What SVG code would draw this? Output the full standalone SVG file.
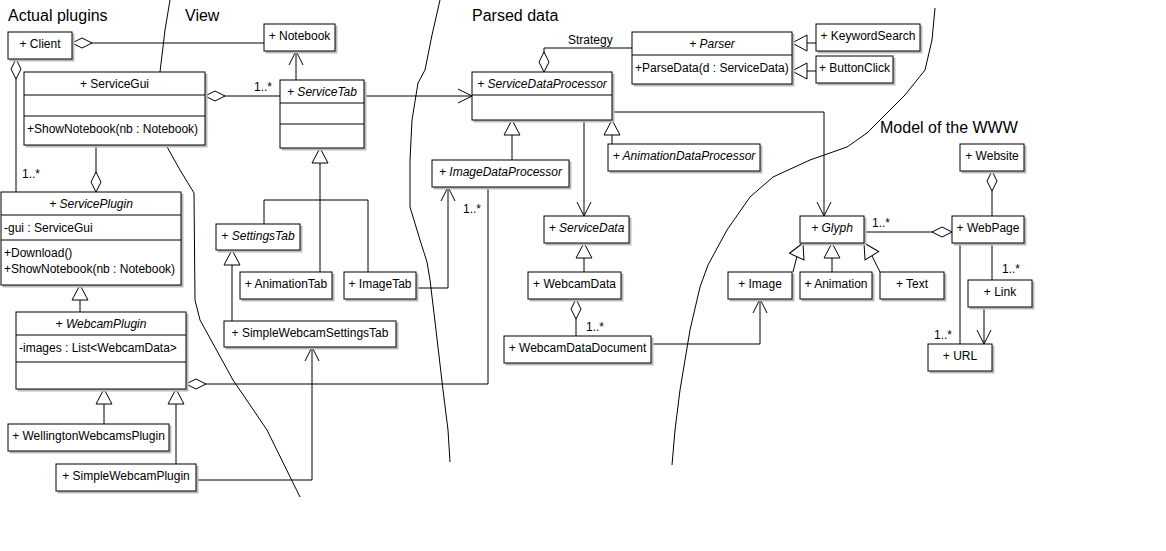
<svg xmlns="http://www.w3.org/2000/svg" width="1166" height="551" viewBox="0 0 1166 551">
<style>
rect.b{fill:#fff;stroke:#000;stroke-width:1;filter:drop-shadow(2px 2px 0 #bbb)}
line.d{stroke:#000}
text{font-family:"Liberation Sans",Arial,sans-serif;font-size:12px;fill:#000}
.c{text-anchor:middle}
.i{font-style:italic}
.reg{font-size:16px}
#connectors path{fill:none;stroke:#000;stroke-width:1}
.free{fill:none;stroke:#000;stroke-width:1}
</style>
<defs>
<marker id="dia" markerUnits="userSpaceOnUse" orient="auto" overflow="visible" refX="0" refY="0" markerWidth="1" markerHeight="1"><path d="M0,0 L-10,-5 L-20,0 L-10,5 Z" fill="#fff" stroke="#000"/></marker>
<marker id="tri" markerUnits="userSpaceOnUse" orient="auto" overflow="visible" refX="0" refY="0" markerWidth="1" markerHeight="1"><path d="M0,0 L-15,-8 L-15,8 Z" fill="#fff" stroke="#000"/></marker>
<marker id="arr" markerUnits="userSpaceOnUse" orient="auto" overflow="visible" refX="0" refY="0" markerWidth="1" markerHeight="1"><path d="M-14,-7 L0,0 L-14,7" fill="none" stroke="#000"/></marker>
</defs>
<rect width="1166" height="551" fill="#fff"/>
<g id="regions">
<path class="free" d="M170,0 L165,30 L160,72"/>
<path class="free" d="M166,145 L180,170 L194,193 L195,300 L200,320 L233,380 L267,430 L300,497"/>
<path class="free" d="M440,0 L432,35 L425,70 L418,83 L412,120 L410,160 L410,207 L420,240 L427,262 L430,280 L436,330 L443,390 L448,430 L450,462"/>
<path class="free" d="M935,8 L932,40 L925,70 L905,95 L880,120 L867,133 L847,147 L810,160 L773,177 L750,197 L727,230 L708,265 L700,287 L690,330 L680,390 L675,430 L672,465"/>
<text class="reg" x="8" y="21">Actual plugins</text>
<text class="reg" x="185" y="21">View</text>
<text class="reg" x="472" y="21">Parsed data</text>
<text class="reg" x="880" y="133">Model of the WWW</text>
</g>
<g id="connectors">
<path d="M264,43 L72,43" marker-end="url(#dia)"/>
<path d="M16,192 L16,59" marker-end="url(#dia)"/>
<path d="M96,145 L96,192" marker-end="url(#dia)"/>
<path d="M280,96 L205,96" marker-end="url(#dia)"/>
<path d="M296,80 L296,51" marker-end="url(#arr)"/>
<path d="M364,96 L472,96" marker-end="url(#arr)"/>
<path d="M320,272 L320,148" marker-end="url(#tri)"/>
<path d="M264,224 L264,200 L368,200 L368,272"/>
<path d="M232,321 L232,250" marker-end="url(#tri)"/>
<path d="M416,288 L448,288 L448,187" marker-end="url(#arr)"/>
<path d="M80,312 L80,285" marker-end="url(#tri)"/>
<path d="M104,424 L104,389" marker-end="url(#tri)"/>
<path d="M176,464 L176,389" marker-end="url(#tri)"/>
<path d="M488,187 L488,384 L186,384" marker-end="url(#dia)"/>
<path d="M196,480 L312,480 L312,347" marker-end="url(#arr)"/>
<path d="M632,48 L544,48 L544,72" marker-end="url(#dia)"/>
<path d="M816,43 L792,43" marker-end="url(#tri)"/>
<path d="M816,71 L792,71" marker-end="url(#tri)"/>
<path d="M512,160 L512,120" marker-end="url(#tri)"/>
<path d="M612,144 L612,120" marker-end="url(#tri)"/>
<path d="M584,120 L584,216" marker-end="url(#arr)"/>
<path d="M612,112 L824,112 L824,216" marker-end="url(#arr)"/>
<path d="M584,272 L584,243" marker-end="url(#tri)"/>
<path d="M576,336 L576,299" marker-end="url(#dia)"/>
<path d="M651,344 L760,344 L760,299" marker-end="url(#arr)"/>
<path d="M793,272 L797,256 L803,243" marker-end="url(#tri)"/>
<path d="M832,272 L832,243" marker-end="url(#tri)"/>
<path d="M880,272 L872,256 L864,243" marker-end="url(#tri)"/>
<path d="M864,232 L952,232" marker-end="url(#dia)"/>
<path d="M992,216 L992,171" marker-end="url(#dia)"/>
<path d="M992,243 L992,280"/>
<path d="M960,243 L960,344"/>
<path d="M984,307 L984,344" marker-end="url(#arr)"/>
<text x="22" y="178">1..*</text>
<text x="254" y="91">1..*</text>
<text x="463" y="213">1..*</text>
<text x="568" y="44">Strategy</text>
<text x="586" y="331">1..*</text>
<text x="872" y="227">1..*</text>
<text x="1002" y="273">1..*</text>
<text x="934" y="339">1..*</text>
</g>
<g id="Client"><rect class="b" x="8" y="32" width="64" height="27"/><text class="c" x="40" y="48">+ Client</text></g>
<g id="Notebook"><rect class="b" x="264" y="24" width="71" height="27"/><text class="c" x="299.5" y="40">+ Notebook</text></g>
<g id="ServiceGui"><rect class="b" x="24" y="72" width="181" height="73"/><line class="d" x1="24" y1="95" x2="205" y2="95"/><line class="d" x1="24" y1="116" x2="205" y2="116"/><text class="c" x="114.5" y="88">+ ServiceGui</text><text x="27" y="133">+ShowNotebook(nb : Notebook)</text></g>
<g id="ServiceTab"><rect class="b" x="280" y="80" width="84" height="68"/><line class="d" x1="280" y1="103" x2="364" y2="103"/><line class="d" x1="280" y1="124" x2="364" y2="124"/><text class="c i" x="322" y="96">+ ServiceTab</text></g>
<g id="ServicePlugin"><rect class="b" x="1" y="192" width="180" height="93"/><line class="d" x1="1" y1="215" x2="181" y2="215"/><line class="d" x1="1" y1="240" x2="181" y2="240"/><text class="c i" x="91" y="208">+ ServicePlugin</text><text x="4" y="232">-gui : ServiceGui</text><text x="4" y="257">+Download()</text><text x="4" y="273">+ShowNotebook(nb : Notebook)</text></g>
<g id="SettingsTab"><rect class="b" x="216" y="224" width="84" height="26"/><text class="c i" x="258" y="240">+ SettingsTab</text></g>
<g id="AnimationTab"><rect class="b" x="240" y="272" width="92" height="27"/><text class="c" x="286" y="288">+ AnimationTab</text></g>
<g id="ImageTab"><rect class="b" x="344" y="272" width="72" height="27"/><text class="c" x="380" y="288">+ ImageTab</text></g>
<g id="SimpleWebcamSettingsTab"><rect class="b" x="224" y="321" width="172" height="26"/><text class="c" x="310" y="337">+ SimpleWebcamSettingsTab</text></g>
<g id="WebcamPlugin"><rect class="b" x="16" y="312" width="170" height="77"/><line class="d" x1="16" y1="335" x2="186" y2="335"/><line class="d" x1="16" y1="362" x2="186" y2="362"/><text class="c i" x="101" y="328">+ WebcamPlugin</text><text x="19" y="352">-images : List&lt;WebcamData&gt;</text></g>
<g id="WellingtonWebcamsPlugin"><rect class="b" x="8" y="424" width="161" height="27"/><text class="c" x="88.5" y="440">+ WellingtonWebcamsPlugin</text></g>
<g id="SimpleWebcamPlugin"><rect class="b" x="56" y="464" width="140" height="27"/><text class="c" x="126" y="480">+ SimpleWebcamPlugin</text></g>
<g id="ServiceDataProcessor"><rect class="b" x="472" y="72" width="140" height="48"/><line class="d" x1="472" y1="95" x2="612" y2="95"/><text class="c i" x="542" y="88">+ ServiceDataProcessor</text></g>
<g id="Parser"><rect class="b" x="632" y="32" width="160" height="52"/><line class="d" x1="632" y1="55" x2="792" y2="55"/><text class="c i" x="712" y="48">+ Parser</text><text x="635" y="72">+ParseData(d : ServiceData)</text></g>
<g id="KeywordSearch"><rect class="b" x="816" y="24" width="104" height="27"/><text class="c" x="868" y="40">+ KeywordSearch</text></g>
<g id="ButtonClick"><rect class="b" x="816" y="56" width="77" height="27"/><text class="c" x="854.5" y="72">+ ButtonClick</text></g>
<g id="ImageDataProcessor"><rect class="b" x="432" y="160" width="137" height="27"/><text class="c i" x="500.5" y="176">+ ImageDataProcessor</text></g>
<g id="AnimationDataProcessor"><rect class="b" x="608" y="144" width="152" height="27"/><text class="c i" x="684" y="160">+ AnimationDataProcessor</text></g>
<g id="ServiceData"><rect class="b" x="544" y="216" width="85" height="27"/><text class="c i" x="586.5" y="232">+ ServiceData</text></g>
<g id="WebcamData"><rect class="b" x="528" y="272" width="93" height="27"/><text class="c" x="574.5" y="288">+ WebcamData</text></g>
<g id="WebcamDataDocument"><rect class="b" x="504" y="336" width="147" height="27"/><text class="c" x="577.5" y="352">+ WebcamDataDocument</text></g>
<g id="Glyph"><rect class="b" x="800" y="216" width="64" height="27"/><text class="c i" x="832" y="232">+ Glyph</text></g>
<g id="Image"><rect class="b" x="728" y="272" width="64" height="27"/><text class="c" x="760" y="288">+ Image</text></g>
<g id="Animation"><rect class="b" x="800" y="272" width="72" height="27"/><text class="c" x="836" y="288">+ Animation</text></g>
<g id="Text"><rect class="b" x="880" y="272" width="64" height="27"/><text class="c" x="912" y="288">+ Text</text></g>
<g id="Website"><rect class="b" x="960" y="144" width="64" height="27"/><text class="c" x="992" y="160">+ Website</text></g>
<g id="WebPage"><rect class="b" x="952" y="216" width="72" height="27"/><text class="c" x="988" y="232">+ WebPage</text></g>
<g id="Link"><rect class="b" x="968" y="280" width="64" height="27"/><text class="c" x="1000" y="296">+ Link</text></g>
<g id="URL"><rect class="b" x="928" y="344" width="64" height="27"/><text class="c" x="960" y="360">+ URL</text></g>
</svg>
